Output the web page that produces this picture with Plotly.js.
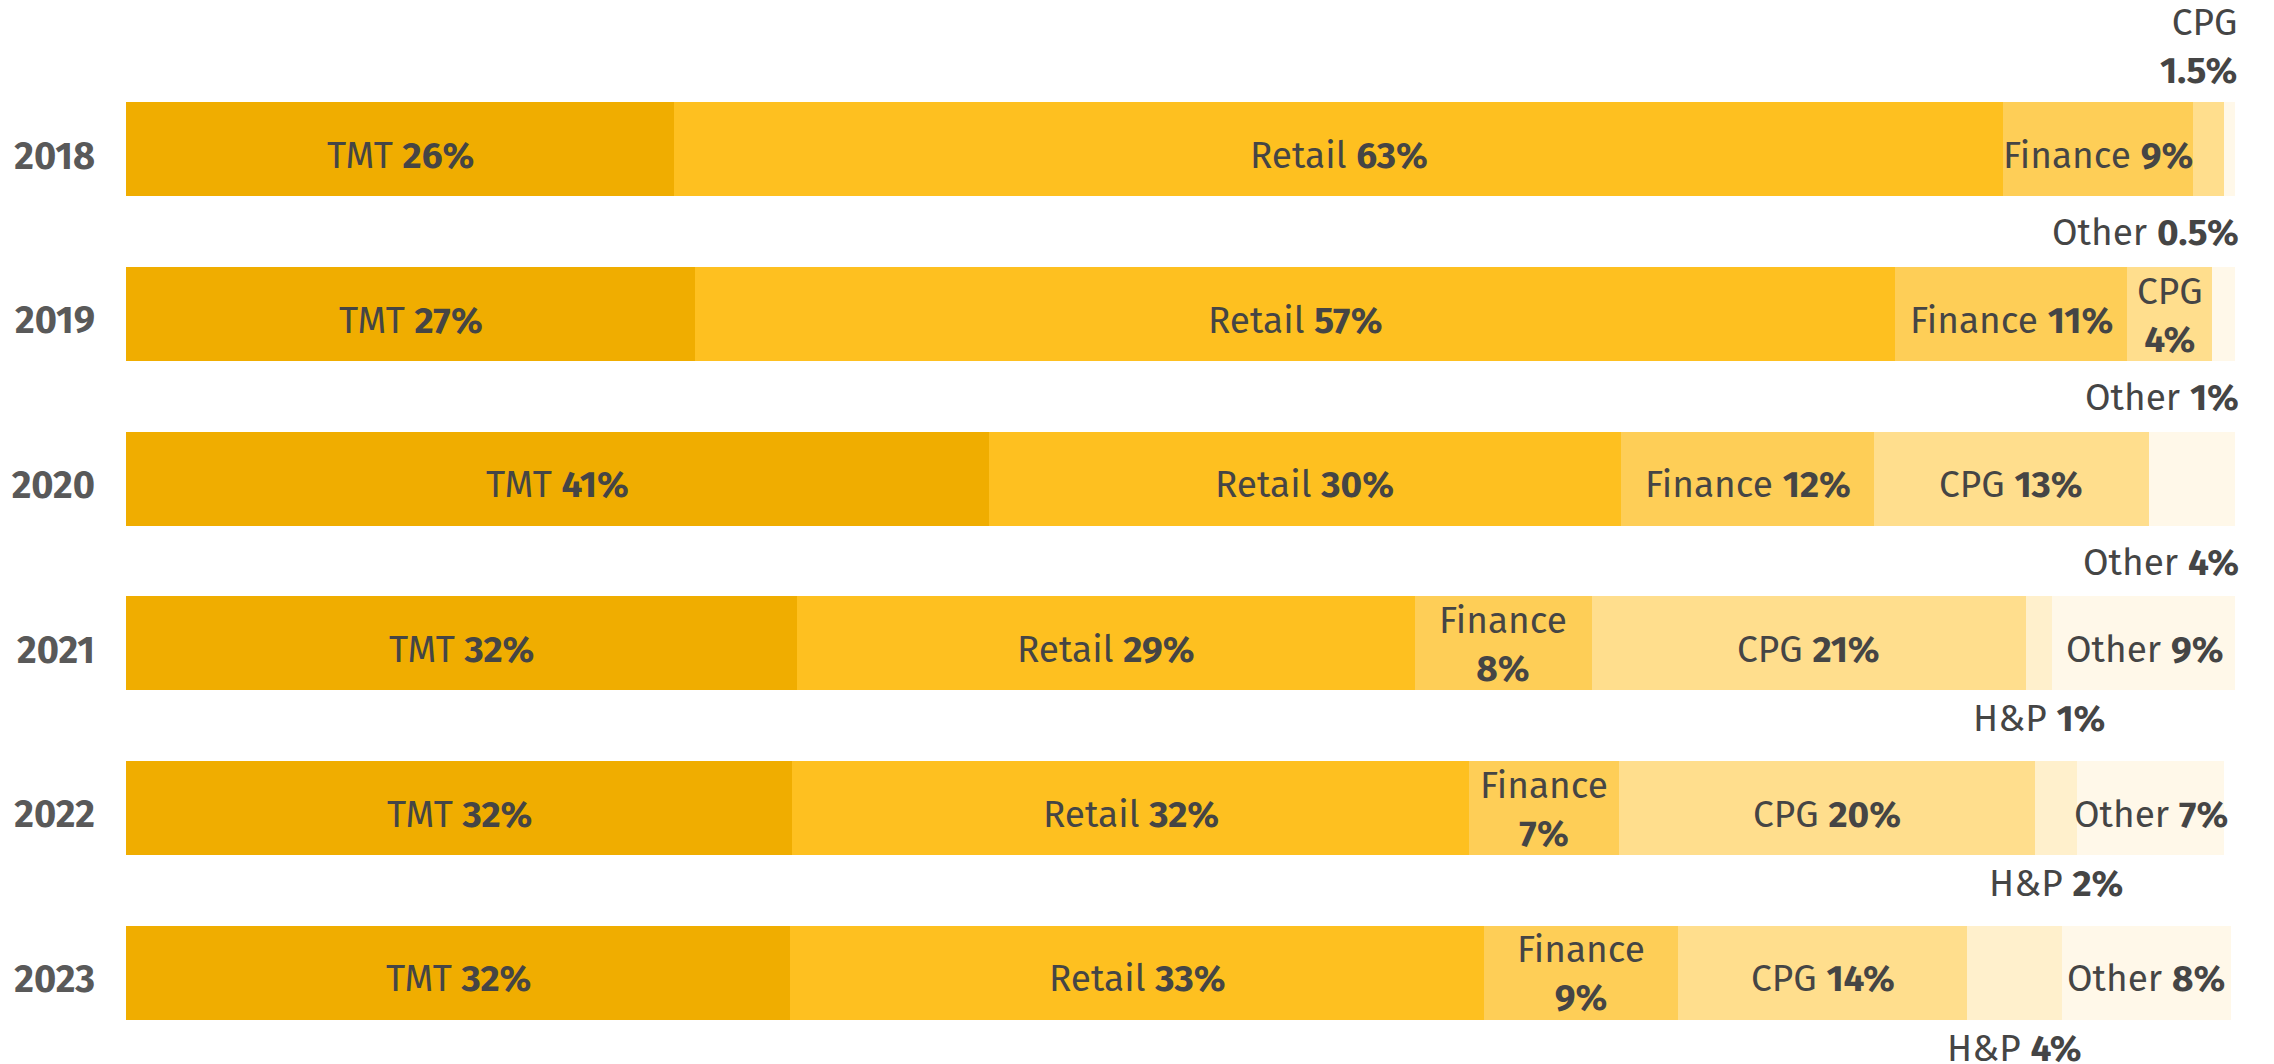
<!DOCTYPE html>
<html>
<head>
<meta charset="utf-8">
<script src="https://cdn.plot.ly/plotly-3.0.1.min.js"></script>
<style>
  html, body { margin: 0; padding: 0; background: #ffffff; }
  #chart { width: 2274px; height: 1064px; }
</style>
</head>
<body>
<div id="chart"></div>
<script>
// ---- data ----
const years = ['2018', '2019', '2020', '2021', '2022', '2023'];
const sectors = ['TMT', 'Retail', 'Finance', 'CPG', 'H&P', 'Other'];

const tmt     = [26.0, 27.0, 40.9, 31.8, 31.6, 31.5];
const retail  = [63.0, 56.9, 30.0, 29.3, 32.1, 32.9];
const finance = [9.0, 11.0, 12.0, 8.4, 7.1, 9.2];
const cpg     = [1.5, 4.0, 13.0, 20.6, 19.7, 13.7];
const hp      = [0, 0, 0, 1.2, 2.0, 4.5];
const other   = [0.5, 1.1, 4.1, 8.8, 7.0, 8.0];

// printed labels
const tmtLabels     = ['26%', '27%', '41%', '32%', '32%', '32%'];
const retailLabels  = ['63%', '57%', '30%', '29%', '32%', '33%'];
const financeLabels = ['9%', '11%', '12%', '8%', '7%', '9%'];
const cpgLabels     = ['1.5%', '4%', '13%', '21%', '20%', '14%'];
const hpLabels      = ['', '', '', '1%', '2%', '4%'];
const otherLabels   = ['0.5%', '1%', '4%', '9%', '7%', '8%'];

// ---- presentation ----
const series = [tmt, retail, finance, cpg, hp, other];
const labels = [tmtLabels, retailLabels, financeLabels, cpgLabels, hpLabels, otherLabels];
const colors = ['#F0AD00', '#FEC020', '#FECE57', '#FFDE8D', '#FFF0CC', '#FFF8E9'];
// label placement per sector per year
const placement = [
  ['in', 'in', 'in', 'in', 'in', 'in'],
  ['in', 'in', 'in', 'in', 'in', 'in'],
  ['in', 'in', 'in', 'in2', 'in2', 'in2'],
  ['above', 'in2', 'in', 'in', 'in', 'in'],
  [null, null, null, 'below', 'below', 'below'],
  ['belowR', 'belowR', 'belowR', 'in', 'in', 'in']
];

const FONT = '"Fira Sans", "Noto Sans", "Open Sans", sans-serif';
const TEXTCOL = '#454545';
const FS = 37;

const traces = sectors.map((s, k) => ({
  type: 'bar',
  orientation: 'h',
  name: s,
  y: years,
  x: series[k],
  marker: { color: colors[k], line: { width: 0 } },
  hoverinfo: 'none'
}));

const annotations = [];
years.forEach((yr, i) => {
  let cum = 0;
  let total = 0;
  series.forEach(arr => { total += arr[i]; });
  series.forEach((arr, k) => {
    const v = arr[i];
    const start = cum;
    cum += v;
    const pos = placement[k][i];
    if (!pos) return;
    const name = sectors[k].replace('&', '&amp;');
    const val = '<b>' + labels[k][i] + '</b>';
    const base = { yref: 'y', xref: 'x', showarrow: false,
      font: { family: FONT, size: FS, color: TEXTCOL } };
    if (pos === 'in') {
      annotations.push(Object.assign({}, base, {
        x: start + v / 2, y: i, text: name + ' ' + val,
        xanchor: 'center', yanchor: 'middle', yshift: -6 }));
    } else if (pos === 'in2') {
      annotations.push(Object.assign({}, base, {
        x: start + v / 2, y: i, text: name + '<br>' + val,
        xanchor: 'center', yanchor: 'middle', yshift: -1 }));
    } else if (pos === 'above') {
      annotations.push(Object.assign({}, base, {
        x: total, y: i, text: name + '<br>' + val,
        xanchor: 'right', yanchor: 'bottom', xshift: 4, yshift: 54, align: 'right' }));
    } else if (pos === 'belowR') {
      annotations.push(Object.assign({}, base, {
        x: total, y: i + 0.5, text: name + ' ' + val,
        xanchor: 'right', yanchor: 'middle', xshift: 6, yshift: -1 }));
    } else if (pos === 'below') {
      annotations.push(Object.assign({}, base, {
        x: start + v / 2, y: i + 0.5, text: name + ' ' + val,
        xanchor: 'center', yanchor: 'middle', yshift: 7 }));
    }
  });
});

const layout = {
  width: 2274,
  height: 1064,
  margin: { l: 126, r: 39, t: 67, b: 9, pad: 0 },
  paper_bgcolor: '#ffffff',
  plot_bgcolor: '#ffffff',
  barmode: 'stack',
  bargap: 0.43,
  showlegend: false,
  font: { family: FONT, color: TEXTCOL },
  xaxis: {
    range: [0, 100],
    showgrid: false, zeroline: false, showline: false,
    showticklabels: false, ticks: '', fixedrange: true
  },
  yaxis: {
    type: 'category',
    categoryorder: 'array',
    categoryarray: years,
    range: [5.5, -0.5],
    showgrid: false, zeroline: false, showline: false,
    ticks: '',
    ticklabelstandoff: 30,
    ticklabelshift: -6,
    tickfont: { family: FONT, size: 38, color: '#595959', weight: 'bold' },
    fixedrange: true
  },
  annotations: annotations
};

Plotly.newPlot('chart', traces, layout, { displayModeBar: false, staticPlot: true });
</script>
</body>
</html>
